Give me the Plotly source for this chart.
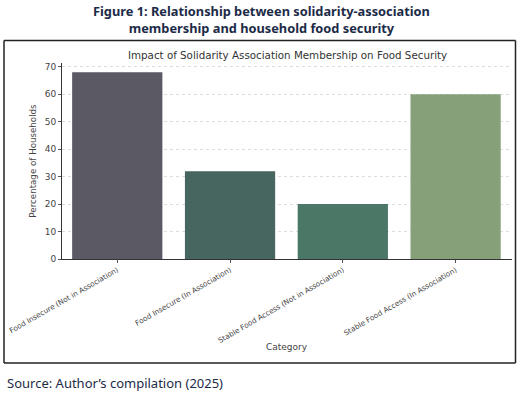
import plotly.graph_objects as go

categories = [
    "Food Insecure (Not in Association)",
    "Food Insecure (In Association)",
    "Stable Food Access (Not in Association)",
    "Stable Food Access (In Association)",
]
percentages = [68, 32, 20, 60]
bar_colors = ["#5a5964", "#47665f", "#4a7766", "#86a07a"]
y_ticks = [0, 10, 20, 30, 40, 50, 60, 70]

W, H = 520, 396
L, R, T, B = 62, 8, 63, 137
PW, PH = W - L - R, H - T - B


def px(x):
    return (x - L) / PW


def py(y):
    return (H - B - y) / PH


fig = go.Figure(
    go.Bar(
        x=list(range(len(categories))),
        y=percentages,
        marker=dict(color=bar_colors, line=dict(width=0)),
        width=0.8,
    )
)

axis_font = dict(family="DejaVu Sans", color="#444444")
frame = dict(color="#222222", width=1.5)
fx0, fx1, fy0, fy1 = px(4), px(515.5), py(363), py(40.5)
fig.update_layout(
    width=W,
    height=H,
    autosize=False,
    margin=dict(l=L, r=R, t=T, b=B),
    paper_bgcolor="white",
    plot_bgcolor="white",
    showlegend=False,
    xaxis=dict(
        range=[-0.49, 3.5],
        tickmode="array",
        tickvals=list(range(len(categories))),
        ticktext=categories,
        tickangle=-30,
        tickfont=dict(axis_font, size=7.3),
        ticks="outside",
        ticklen=3,
        tickcolor="#555555",
        showline=True,
        linecolor="#333333",
        linewidth=1,
        showgrid=False,
        zeroline=False,
    ),
    yaxis=dict(
        range=[0, 71.4],
        tickmode="array",
        tickvals=y_ticks,
        tickfont=dict(axis_font, size=9),
        ticks="outside",
        ticklen=3,
        tickcolor="#555555",
        showline=True,
        linecolor="#333333",
        linewidth=1,
        showgrid=True,
        gridcolor="#dcdcdc",
        griddash="dot",
        gridwidth=1,
        zeroline=False,
        title=dict(text="Percentage of Households", font=dict(axis_font, size=8.7), standoff=6),
    ),
    shapes=[
        dict(type="line", xref="paper", yref="paper", x0=fx0, x1=fx1, y0=fy1, y1=fy1, line=frame),
        dict(type="line", xref="paper", yref="paper", x0=fx0, x1=fx1, y0=fy0, y1=fy0, line=frame),
        dict(type="line", xref="paper", yref="paper", x0=fx0, x1=fx0, y0=fy0, y1=fy1, line=frame),
        dict(type="line", xref="paper", yref="paper", x0=fx1, x1=fx1, y0=fy0, y1=fy1, line=frame),
    ],
    annotations=[
        dict(
            text="<b>Figure 1: Relationship between solidarity-association<br>membership and household food security</b>",
            xref="paper", yref="paper", x=px(261), y=py(20), xanchor="center", yanchor="middle",
            showarrow=False, align="center",
            font=dict(family="Noto Sans", size=12.8, color="#1c2b48"),
        ),
        dict(
            text="Impact of Solidarity Association Membership on Food Security",
            xref="paper", yref="paper", x=px(287), y=py(55), xanchor="center", yanchor="middle",
            showarrow=False,
            font=dict(family="DejaVu Sans", size=10.3, color="#333333"),
        ),
        dict(
            text="Category",
            xref="paper", yref="paper", x=px(287), y=py(347), xanchor="center", yanchor="middle",
            showarrow=False,
            font=dict(axis_font, size=9),
        ),
        dict(
            text="Source: Author\u2019s compilation (2025)",
            xref="paper", yref="paper", x=px(5), y=py(383), xanchor="left", yanchor="middle",
            showarrow=False,
            font=dict(family="Noto Sans", size=13, color="#1c2b48"),
        ),
    ],
)

fig.write_html(
    "out.html",
    config={"displayModeBar": False},
    post_script="document.body.style.margin='0';",
)
